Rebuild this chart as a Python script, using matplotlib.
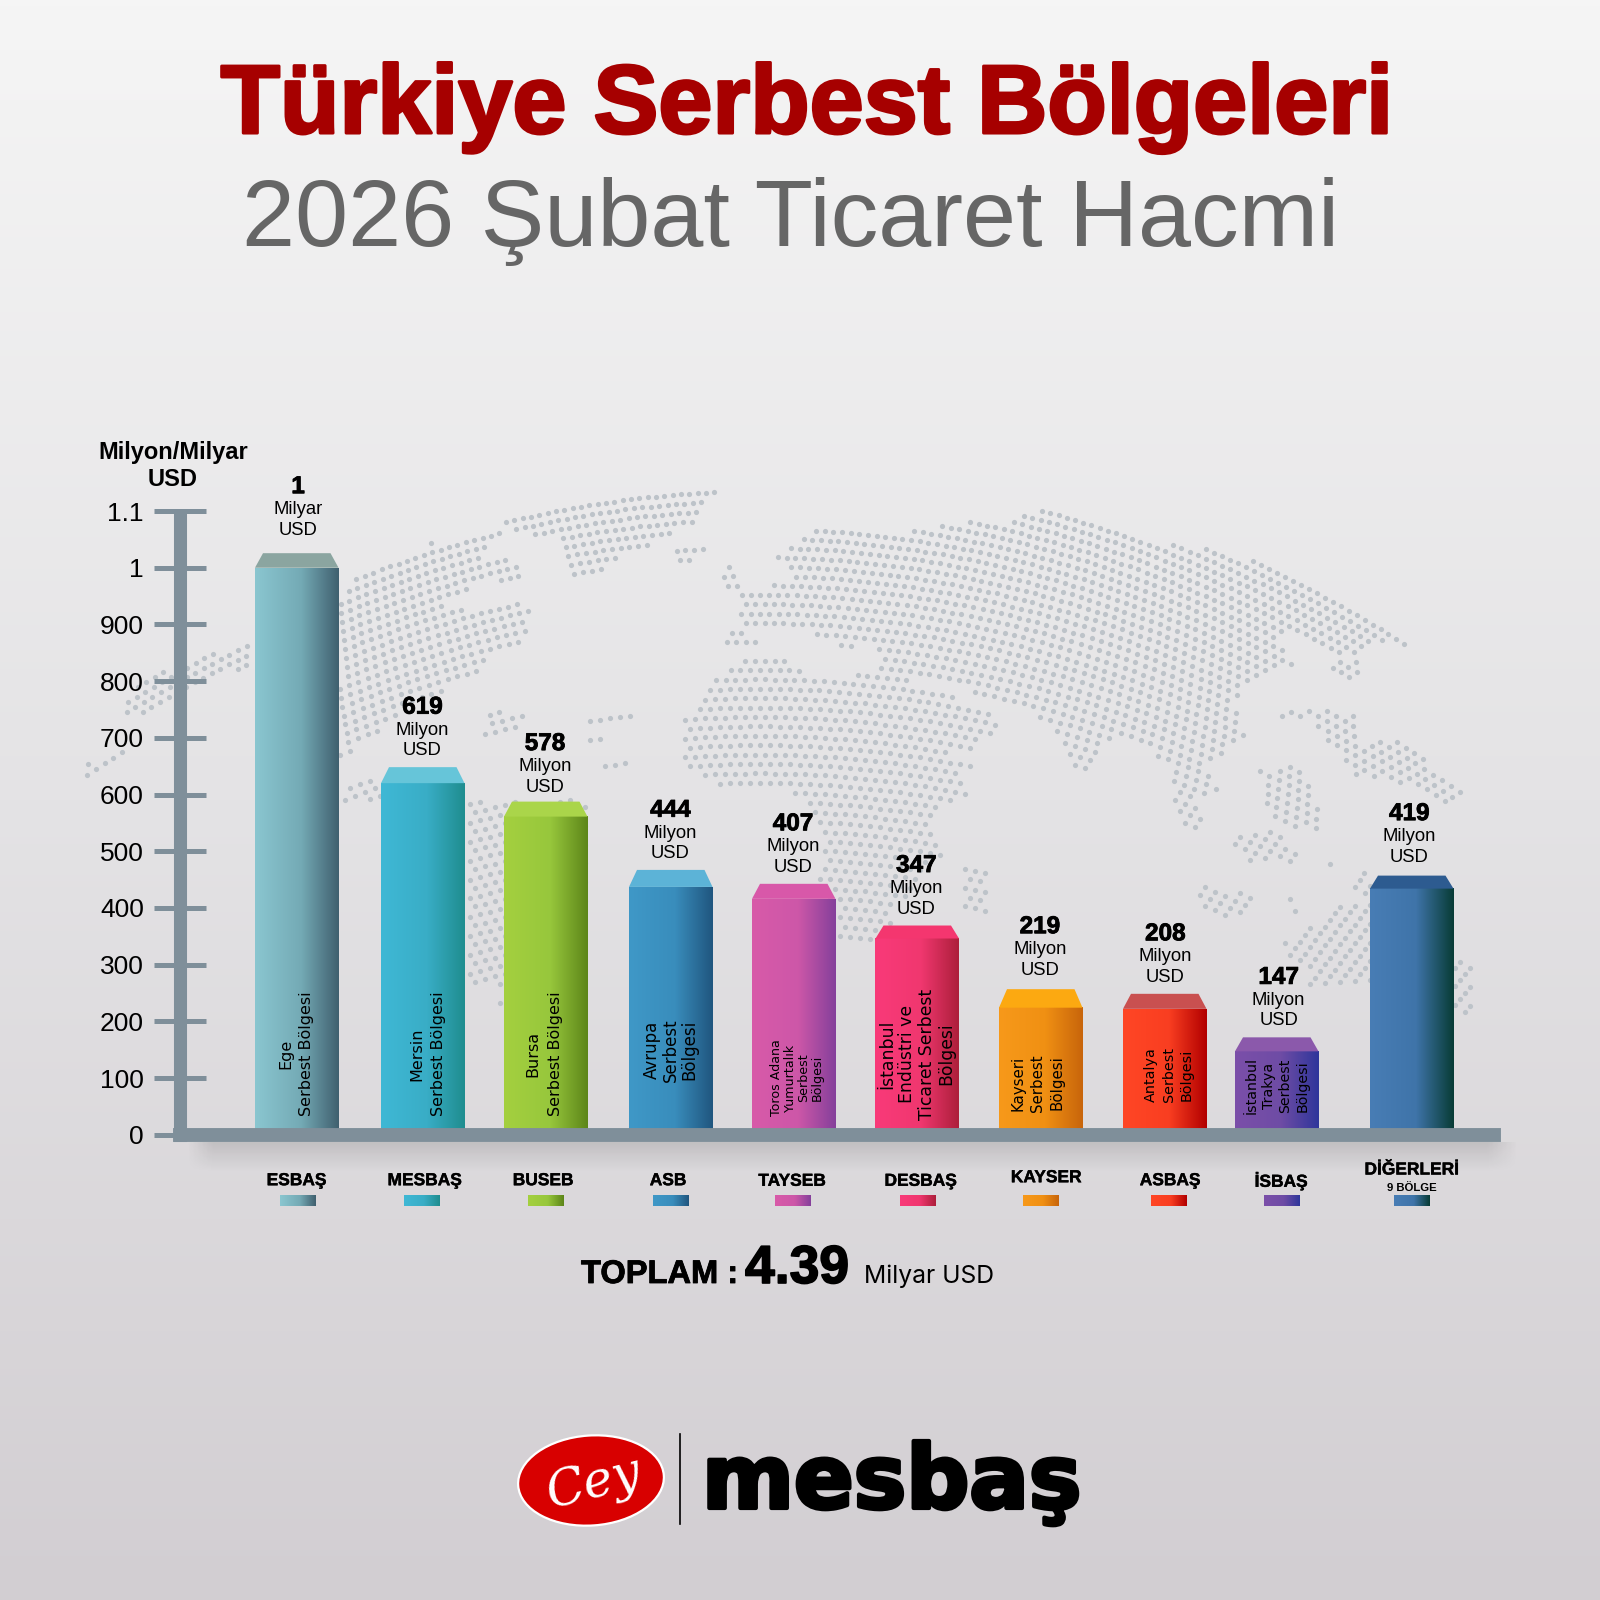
import numpy as np
import matplotlib
matplotlib.use("Agg")
import matplotlib.pyplot as plt
import matplotlib.patheffects as pe
from matplotlib.colors import LinearSegmentedColormap
from matplotlib.patches import Ellipse, Polygon
from matplotlib.path import Path

plt.rcParams["font.family"] = ["Liberation Sans", "DejaVu Sans"]

# values printed above the bars
value_labels = ["1", "619", "578", "444", "407", "347", "219", "208", "147", "419"]
unit_labels = ["Milyar\nUSD"] + ["Milyon\nUSD"] * 9
# bar heights as they are drawn against the axis (the artwork does not follow the labels exactly)
bar_heights = [1000, 620, 561, 437, 416, 346, 224, 222, 147, 434]

short_names = ["ESBAŞ", "MESBAŞ", "BUSEB", "ASB", "TAYSEB", "DESBAŞ", "KAYSER", "ASBAŞ", "İSBAŞ", "DİĞERLERİ"]
long_names = [
    "Ege\nSerbest Bölgesi",
    "Mersin\nSerbest Bölgesi",
    "Bursa\nSerbest Bölgesi",
    "Avrupa\nSerbest\nBölgesi",
    "Toros Adana\nYumurtalık\nSerbest\nBölgesi",
    "İstanbul\nEndüstri ve\nTicaret Serbest\nBölgesi",
    "Kayseri\nSerbest\nBölgesi",
    "Antalya\nSerbest\nBölgesi",
    "İstanbul\nTrakya\nSerbest\nBölgesi",
    "",
]
tick_values = [0, 100, 200, 300, 400, 500, 600, 700, 800, 900, 1000, 1100]
tick_labels = ["0", "100", "200", "300", "400", "500", "600", "700", "800", "900", "1", "1.1"]

# layout, in pixels of the 1600x1600 picture
bar_left = [255, 381, 504, 629, 752, 875.5, 999, 1123, 1235, 1370]
bar_width = 83.5
top_depth = [14.5, 16, 15, 17, 15, 13, 18.5, 15, 14, 13]
label_gap = [39, 34, 31, 34.7, 33, 31, 39, 33, 32, 33]
label_x = [298, 422.4, 545, 670.4, 793, 916.3, 1039.8, 1165.3, 1278.6, 1409.2]
name_x = [296.4, 424.5, 543, 668, 792, 920.5, 1046, 1170, 1281, 1411.6]
name_y = [1180.7, 1180.7, 1180.7, 1180.7, 1181.3, 1181.3, 1177.7, 1180.7, 1181.3, 1170]
swatch_x = [297.8, 422, 545.5, 670.5, 793, 917.4, 1040.6, 1169, 1281.7, 1411.6]
long_x = [296, 428, 544, 671, 797, 917, 1037.5, 1169, 1277, 0]
long_y = [1054, 1054, 1054, 1050, 1078, 1054, 1083, 1075, 1086, 0]
long_size = [11.5, 11.5, 11.5, 12, 9.1, 12.4, 10.8, 10.4, 10.2, 10]
long_spacing = [1.5, 1.56, 1.6, 1.05, 1.07, 1.12, 1.38, 1.35, 1.26, 1]

# gradient stops of the front faces and the colour of the top faces
front_colors = [
    ("#8ac6d0", "#74aab5", "#40606f"),
    ("#3fb8d5", "#39adc6", "#1f8d8f"),
    ("#a4d03f", "#97c73c", "#5d8619"),
    ("#3f98c7", "#398dbc", "#20567f"),
    ("#d85aa9", "#cd57a8", "#85409b"),
    ("#f93a79", "#f0376f", "#ad1f3b"),
    ("#f7991a", "#f09013", "#c8650b"),
    ("#ff4625", "#f93e21", "#b20000"),
    ("#7b4fa9", "#6e4ca5", "#2f369b"),
    ("#487db5", "#3f74a9", "#083c36"),
]
top_colors = ["#8ba5a0", "#66c5d9", "#aad54a", "#5cb3d7", "#d858a9", "#f4366f",
              "#fca911", "#c95050", "#8b59ab", "#2d5b90"]

AXIS_COLOR = "#7f8f9a"
PX_PER_UNIT = 0.5667  # 56.67 px per 100 on the axis
Y_ZERO = 1134.7

# outlines of the land masses in the dotted map, pixels
map_shapes = [
    # north america
    [(339, 600), (350, 580), (368, 568), (399, 557), (430, 543), (502, 527), (506, 538), (462, 557),
     (524, 560), (520, 580), (480, 583), (457, 595), (444, 605), (462, 608), (524, 602), (531, 613),
     (524, 633), (515, 652), (484, 655), (484, 673), (448, 683), (444, 693), (399, 713), (368, 740),
     (346, 757), (339, 763)],
    [(149, 677), (252, 638), (254, 667), (194, 683), (163, 710), (125, 717), (125, 697)],
    [(78, 778), (85, 765), (125, 748), (128, 758), (100, 775)],
    # greenland, iceland
    [(520, 533), (493, 522), (618, 495), (698, 490), (721, 490), (698, 507), (694, 523), (654, 543),
     (622, 555), (596, 573), (580, 585), (564, 563), (564, 540)],
    [(674, 546), (707, 546), (707, 553), (690, 561), (674, 561)],
    # central and south america
    [(476, 742), (490, 712), (525, 712), (520, 735)],
    [(590, 715), (632, 715), (632, 725), (590, 725)],
    [(586, 738), (600, 738), (600, 745), (586, 745)],
    [(605, 757), (631, 757), (631, 768), (605, 768)],
    [(341, 785), (400, 775), (400, 800), (341, 800)],
    [(466, 800), (588, 800), (588, 900), (560, 960), (503, 985), (466, 985)],
    [(497, 1000), (502, 1000), (502, 1006), (497, 1006)],
    # europe and asia
    [(772, 555), (800, 538), (817, 530), (890, 530), (903, 532), (983, 518), (1000, 527), (1023, 513),
     (1058, 508), (1100, 520), (1133, 532), (1163, 542), (1207, 548), (1263, 563), (1293, 578),
     (1333, 593), (1373, 617), (1397, 632), (1413, 650), (1390, 643), (1367, 643), (1363, 650),
     (1333, 640), (1320, 650), (1293, 627), (1277, 643), (1295, 663), (1267, 677), (1250, 683),
     (1233, 700), (1243, 727), (1248, 740), (1227, 747), (1220, 757), (1200, 763), (1213, 773),
     (1220, 793), (1197, 800), (1202, 820), (1207, 830), (1187, 830), (1173, 800), (1170, 767),
     (1147, 750), (1123, 737), (1110, 737), (1103, 747), (1090, 757), (1093, 773), (1082, 775),
     (1068, 762), (1050, 723), (1027, 710), (980, 700), (963, 687), (880, 675), (877, 657),
     (887, 657), (867, 638), (843, 650), (833, 650), (830, 637), (807, 637), (813, 627), (747, 630),
     (757, 637), (755, 650), (718, 650), (718, 637), (745, 628), (737, 610), (740, 592), (778, 582),
     (802, 572), (780, 565)],
    [(723, 563), (733, 563), (743, 578), (743, 593), (723, 593)],
    # africa and arabia
    [(792, 655), (753, 655), (727, 667), (717, 677), (705, 687), (697, 707), (683, 717), (680, 743),
     (680, 767), (700, 775), (720, 785), (750, 783), (780, 783), (790, 793), (802, 803), (820, 833),
     (823, 860), (813, 880), (837, 907), (837, 937), (860, 947), (887, 933), (893, 913), (927, 867),
     (943, 853), (930, 827), (943, 803), (967, 797), (960, 777), (982, 767), (947, 755), (973, 747),
     (1002, 728), (997, 717), (980, 707), (957, 697), (943, 687), (880, 675), (807, 673), (792, 663)],
    [(963, 863), (987, 863), (987, 912), (963, 912)],
    # east asia islands and the pacific
    [(1317, 637), (1357, 637), (1357, 653), (1317, 653)],
    [(1328, 660), (1363, 660), (1363, 677), (1328, 677)],
    [(1270, 713), (1315, 710), (1353, 713), (1363, 743), (1393, 740), (1427, 753), (1433, 773),
     (1467, 797), (1447, 803), (1417, 790), (1383, 780), (1353, 777), (1343, 757), (1320, 737),
     (1310, 720), (1273, 718)],
    [(1257, 767), (1300, 767), (1317, 800), (1320, 830), (1280, 827), (1265, 800)],
    [(1233, 830), (1277, 830), (1300, 853), (1300, 862), (1250, 862), (1233, 850)],
    [(1200, 883), (1245, 893), (1263, 905), (1225, 917), (1200, 913)],
    [(1280, 890), (1292, 890), (1303, 913), (1290, 913)],
    [(1320, 860), (1337, 860), (1337, 870), (1320, 870)],
    [(1353, 870), (1370, 870), (1370, 893), (1353, 893)],
    # australia
    [(1280, 945), (1310, 925), (1340, 905), (1370, 900), (1470, 960), (1472, 1012), (1455, 1020),
     (1370, 985), (1310, 985), (1305, 965), (1280, 950)],
]


def bold(lw, color="black"):
    return [pe.withStroke(linewidth=lw, foreground=color)]


def make_cmap(stops):
    return LinearSegmentedColormap.from_list("face", [(0, stops[0]), (0.55, stops[1]), (1, stops[2])])


def draw_background(bg):
    shade = LinearSegmentedColormap.from_list("bg", ["#f5f5f5", "#e4e3e5", "#d2ced2"])
    bg.imshow(np.linspace(0, 1, 256).reshape(-1, 1), cmap=shade, aspect="auto",
              extent=(0, 1600, 1600, 0), zorder=0)


def draw_map(bg):
    # rows bend like a globe and the dots spread out towards the bottom
    xs, ys = [], []
    for r, y0 in enumerate(np.arange(200, 1100, 9.4)):
        step = 7.6 + 2.4 * np.clip((y0 - 400) / 300, 0, 1)
        row = 760 + step * (np.arange(-100, 100) + 0.5 * (r % 2))
        xs.append(row)
        ys.append(y0 + 0.00048 * (row - 760) ** 2)
    pts = np.column_stack([np.concatenate(xs), np.concatenate(ys)])
    keep = np.zeros(len(pts), dtype=bool)
    for shape in map_shapes:
        keep |= Path(shape + [shape[0]]).contains_points(pts)
    bg.scatter(pts[keep, 0], pts[keep, 1], s=14, color="#bdc3c9", linewidths=0, zorder=1)


def draw_titles(bg):
    bg.text(807, 133, "Türkiye Serbest Bölgeleri", fontsize=70, fontweight="bold", color="#a60000",
            ha="center", va="baseline", path_effects=bold(2.2, "#a60000"))
    bg.text(791, 246, "2026 Şubat Ticaret Hacmi", fontsize=68.7, color="#666666",
            ha="center", va="baseline")
    bg.text(173, 459, "Milyon/Milyar", fontsize=17, fontweight="bold", ha="center", va="baseline")
    bg.text(173, 486, "USD", fontsize=17, fontweight="bold", ha="center", va="baseline")


def draw_legend(bg):
    for i, name in enumerate(short_names):
        bg.text(name_x[i], name_y[i], name, fontsize=12.5, fontweight="bold", ha="center", va="center",
                path_effects=bold(0.3))
        bg.imshow(np.linspace(0, 1, 64).reshape(1, -1), cmap=make_cmap(front_colors[i]), aspect="auto",
                  extent=(swatch_x[i] - 17.8, swatch_x[i] + 17.8, 1206, 1195), zorder=2)
    bg.text(1411.6, 1187.7, "9 BÖLGE", fontsize=8.2, fontweight="bold", ha="center", va="center")

    bg.text(581, 1283, "TOPLAM :", fontsize=23.5, fontweight="bold", ha="left", va="baseline",
            path_effects=bold(0.6))
    bg.text(745, 1283, "4.39", fontsize=38.5, fontweight="bold", ha="left", va="baseline",
            path_effects=bold(1.2))
    bg.text(864, 1283, "Milyar USD", fontsize=17.8, family="Inter", ha="left", va="baseline")


def draw_logo(bg):
    bg.add_patch(Ellipse((591, 1480.5), 146, 90, angle=-4, facecolor="#d80000", edgecolor="white",
                         linewidth=1.6, zorder=3))
    bg.text(594, 1484, "Cey", fontsize=36, family="DejaVu Serif", style="italic", color="white",
            rotation=14, ha="center", va="center", zorder=4)
    bg.plot([680, 680], [1434, 1524], color="black", linewidth=1.2, zorder=3)
    bg.text(702, 1508, "mesbaş", fontsize=63.5, fontweight="bold", family="DejaVu Sans", ha="left",
            va="baseline", path_effects=bold(3), zorder=3)


def draw_chart(ax):
    for i, h in enumerate(bar_heights):
        left, right = bar_left[i], bar_left[i] + bar_width
        ax.imshow(np.linspace(0, 1, 128).reshape(1, -1), cmap=make_cmap(front_colors[i]), aspect="auto",
                  extent=(left, right, 0, h), zorder=2, interpolation="bilinear")
        depth = top_depth[i] / PX_PER_UNIT
        ax.add_patch(Polygon([(left, h), (left + 8, h + depth), (right - 8, h + depth), (right, h)],
                             closed=True, facecolor=top_colors[i], edgecolor="none", zorder=2,
                             clip_on=False))

        gap = label_gap[i] * 0.72
        ax.annotate(unit_labels[i], xy=(label_x[i], h), xytext=(0, gap - 10 * 0.72), textcoords="offset points",
                    ha="center", va="bottom", fontsize=13.3, linespacing=1.28, multialignment="center",
                    annotation_clip=False, zorder=3)
        ax.annotate(value_labels[i], xy=(label_x[i], h), xytext=(0, gap + 42 * 0.72), textcoords="offset points",
                    ha="center", va="center", fontsize=17.5, fontweight="bold", annotation_clip=False,
                    path_effects=bold(0.6), zorder=3)
        if long_names[i]:
            ax.text(long_x[i], (Y_ZERO - long_y[i]) / PX_PER_UNIT, long_names[i], rotation=90, ha="center",
                    va="center", multialignment="center", fontsize=long_size[i], family="DejaVu Sans",
                    linespacing=long_spacing[i], zorder=3)

    ax.set_xlim(179.5, 1494.5)
    ax.set_ylim(0, 1100)
    ax.set_xticks([])
    ax.set_yticks(tick_values)
    ax.set_yticklabels(tick_labels)
    ax.tick_params(axis="y", direction="inout", length=37.4, width=3.6, color=AXIS_COLOR,
                   pad=7, labelsize=19)
    ax.spines["top"].set_visible(False)
    ax.spines["right"].set_visible(False)
    ax.spines["left"].set_color(AXIS_COLOR)
    ax.spines["left"].set_linewidth(9.4)
    ax.spines["left"].set_bounds(0, 1092)
    ax.spines["bottom"].set_color(AXIS_COLOR)
    ax.spines["bottom"].set_linewidth(10)
    ax.spines["bottom"].set_zorder(2.6)
    ax.patch.set_alpha(0)


def draw_floor_shadow(bg):
    # soft shadow under the floor of the chart
    fade_y = np.linspace(0.12, 0, 40)[:, None]
    fade_x = np.clip((1520 - np.linspace(185, 1520, 300)) / 30, 0, 1)[None, :]
    fade_l = np.clip((np.linspace(185, 1520, 300) - 185) / 25, 0, 1)[None, :]
    rgba = np.zeros((40, 300, 4))
    rgba[..., 3] = fade_y * fade_x * fade_l
    bg.imshow(rgba, aspect="auto", extent=(185, 1520, 1172, 1142), zorder=1.5)


def run():
    fig = plt.figure(figsize=(16, 16), dpi=100)

    bg = fig.add_axes([0, 0, 1, 1], zorder=0)
    draw_background(bg)
    draw_map(bg)
    draw_floor_shadow(bg)
    draw_titles(bg)
    draw_legend(bg)
    draw_logo(bg)
    bg.set_xlim(0, 1600)
    bg.set_ylim(1600, 0)
    bg.axis("off")

    ax = fig.add_axes([179.5 / 1600, 1 - Y_ZERO / 1600, (1494.5 - 179.5) / 1600, (Y_ZERO - 511) / 1600], zorder=1)
    draw_chart(ax)

    fig.savefig("out.png", dpi=100)


if __name__ == "__main__":
    run()
